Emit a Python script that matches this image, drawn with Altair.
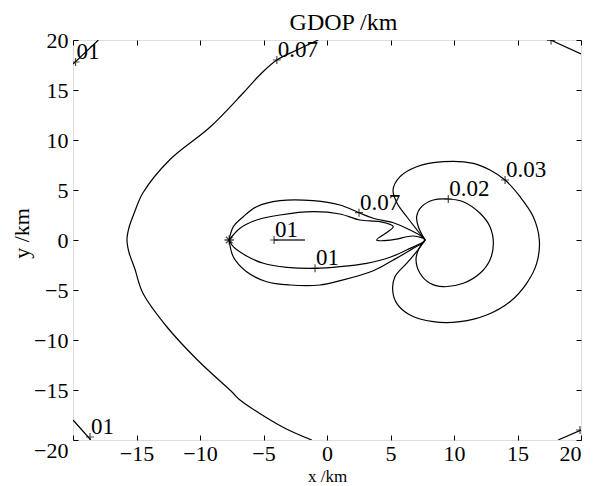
import altair as alt
import pandas as pd

# ---------------- data (km) ----------------
# big outer contour (0.07)
outer_x = [-0.7, -2.2, -3.95, -5.3, -6.6, -9.2, -12.4, -14.5, -15.15, -15.6, -15.75, -15.6, -15.15, -14.5, -12.6, -10.2, -7.4, -6.85, -3.5, -1.2]
outer_y = [20.0, 19.1, 18.0, 16.5, 14.7, 11.3, 8.0, 4.7, 2.8, 1.2, 0.0, -1.2, -2.8, -5.3, -8.7, -12.0, -15.3, -16.0, -18.7, -20.0]

# left lobe, outer loop
lobe_out_x = [-7.7, -7.38, -6.59, -5.54, -3.70, -1.08, 1.02, 2.52, 3.65, 5.22, 6.54, 7.72,
              6.80, 5.22, 3.65, 1.02, -0.55, -2.91, -4.75, -6.33, -7.38, -7.7]
lobe_out_y = [0.0, 1.33, 2.33, 3.33, 3.93, 3.93, 3.5, 2.73, 2.17, 1.73, 1.0, 0.0,
              -0.83, -2.0, -3.07, -4.07, -4.5, -4.5, -4.17, -3.17, -1.67, 0.0]

# left lobe, inner loop (with notch)
lobe_in_x = [-7.7, -6.85, -5.54, -3.70, -1.08, 1.02, 2.60, 4.17, 5.22, 3.91, 5.22, 6.80, 7.72,
             6.27, 4.96, 3.12, 1.02, -0.94, -3.17, -5.01, -6.33, -7.38, -7.7]
lobe_in_y = [0.0, 1.17, 2.0, 2.5, 2.83, 2.6, 2.0, 1.83, 1.33, 0.0, 0.03, 0.4, 0.0,
             -1.0, -1.73, -2.33, -2.67, -2.83, -2.73, -2.33, -1.6, -0.67, 0.0]

# short segment inside the lobe
seg_x = [-4.17, -1.73]
seg_y = [0.0, 0.0]

# right loop 0.03
r3_x = [7.72, 7.09, 6.30, 5.51, 5.20, 5.75, 7.06, 9.16, 11.52, 12.83, 14.02, 15.20, 16.24, 16.72,
        16.51, 15.72, 14.41, 12.57, 10.47, 8.37, 6.54, 5.49, 5.17, 5.35, 6.27, 7.06, 7.72]
r3_y = [0.0, 1.0, 2.3, 3.7, 5.0, 6.33, 7.33, 7.83, 7.67, 7.0, 6.0, 4.33, 2.33, 0.0,
        -2.33, -4.33, -6.17, -7.5, -8.17, -8.17, -7.5, -6.33, -5.0, -3.67, -2.33, -1.17, 0.0]

# right loop 0.02
r2_x = [7.72, 7.19, 7.06, 7.45, 8.37, 9.55, 10.73, 12.05, 12.83, 13.10, 12.83, 12.05, 10.73,
        9.16, 8.11, 7.32, 7.01, 7.19, 7.72]
r2_y = [0.0, 1.33, 2.33, 3.33, 4.0, 4.1, 3.83, 2.67, 1.33, -0.33, -2.0, -3.33, -4.33,
        -4.67, -4.33, -3.33, -2.0, -1.0, 0.0]

# corner pieces
tl_x, tl_y = [-20.0, -18.0], [17.6, 20.0]
bl_x, bl_y = [-20.0, -18.6], [-18.0, -20.0]
tr_x, tr_y = [17.6, 20.0], [20.0, 18.6]
br_x, br_y = [18.2, 20.0], [-20.0, -19.0]

# label markers
mk_x = [-3.95, -19.8, -18.66, -4.17, -0.94, 2.52, 9.55, 14.02, 17.64, 19.92]
mk_y = [18.0, 17.8, -19.7, 0.0, -2.83, 2.73, 4.1, 6.0, 19.95, -19.0]
mk_t = ["0.07", "01", "01", "01", "01", "0.07", "0.02", "0.03", "", ""]

# star at the left station
star_x = [-7.7]
star_y = [0.0]

ticks = [-20, -15, -10, -5, 0, 5, 10, 15, 20]

# ---------------- build tables ----------------
pieces = {
    "outer": (outer_x, outer_y),
    "lobe_out": (lobe_out_x, lobe_out_y),
    "lobe_in": (lobe_in_x, lobe_in_y),
    "seg": (seg_x, seg_y),
    "r3": (r3_x, r3_y),
    "r2": (r2_x, r2_y),
    "tl": (tl_x, tl_y),
    "bl": (bl_x, bl_y),
    "tr": (tr_x, tr_y),
    "br": (br_x, br_y),
}
rows = []
for name, (xs, ys) in pieces.items():
    for i, (a, b) in enumerate(zip(xs, ys)):
        rows.append({"piece": name, "order": i, "x": a, "y": b})
df = pd.DataFrame(rows)
mk = pd.DataFrame({"x": mk_x, "y": mk_y, "t": mk_t})
st = pd.DataFrame({"x": star_x, "y": star_y})

FONT = "Liberation Serif"
xs_ = alt.Scale(domain=[-20, 20], nice=False, zero=False)
ys_ = alt.Scale(domain=[-20, 20], nice=False, zero=False)

minus = "replace(datum.label, '-', '\u2212')"

x_axis = alt.Axis(orient="bottom", values=ticks, offset=-5, tickSize=5, domain=False, grid=False,
                  tickColor="black", tickWidth=1, labelFont=FONT, labelFontSize=22, labelColor="black",
                  labelPadding=3, labelExpr="datum.value == -20 ? '' : " + minus,
                  title="x /km", titleFont=FONT, titleFontSize=17, titleFontWeight="normal",
                  titleColor="black", titleY=46, titleBaseline="alphabetic")
y_axis = alt.Axis(orient="left", values=ticks, offset=-5, tickSize=5, domain=False, grid=False,
                  tickColor="black", tickWidth=1, labelFont=FONT, labelFontSize=22, labelColor="black",
                  labelPadding=5, labelExpr=minus,
                  labelBaseline={"condition": {"test": "datum.value == -20", "value": "top"}, "value": "middle"},
                  title="y /km", titleFont=FONT, titleFontSize=22, titleFontWeight="normal",
                  titleColor="black", titleX=-50, titleY=193, titleAlign="center",
                  titleBaseline="alphabetic", titleAngle=270)
x_top = alt.Axis(orient="top", values=ticks, offset=-5, tickSize=5, domain=False, grid=False,
                 tickColor="black", tickWidth=1, labels=False,
                 title="GDOP /km", titleFont=FONT, titleFontSize=24, titleFontWeight="normal",
                 titleColor="black", titleX=270, titleY=-16, titleAlign="center",
                 titleBaseline="alphabetic")
y_right = alt.Axis(orient="right", values=ticks, offset=-5, tickSize=5, domain=False, grid=False,
                   tickColor="black", tickWidth=1, labels=False, title="")

lines = alt.Chart(df).mark_line(color="black", strokeWidth=1.2, clip=True,
                                interpolate="catmull-rom").encode(
    x=alt.X("x:Q", scale=xs_, axis=x_axis),
    y=alt.Y("y:Q", scale=ys_, axis=y_axis),
    detail="piece:N",
    order="order:Q",
)

plus = alt.Chart(mk).mark_point(shape="M-1,0L1,0M0,-1L0,1", size=64, filled=False,
                                color="black", strokeWidth=1.2, clip=True).encode(
    x=alt.X("x:Q", scale=xs_, axis=None),
    y=alt.Y("y:Q", scale=ys_, axis=None),
)

labels = alt.Chart(mk).mark_text(align="left", baseline="alphabetic", dx=1, dy=-3,
                                 font=FONT, fontSize=23, color="black").encode(
    x=alt.X("x:Q", scale=xs_, axis=None),
    y=alt.Y("y:Q", scale=ys_, axis=None),
    text="t:N",
)

star1 = alt.Chart(st).mark_point(shape="M-1,0L1,0M0,-1L0,1", size=90, filled=False,
                                 color="black", strokeWidth=1.3).encode(
    x=alt.X("x:Q", scale=xs_, axis=None),
    y=alt.Y("y:Q", scale=ys_, axis=None),
)
star2 = alt.Chart(st).mark_point(shape="M-0.7,-0.7L0.7,0.7M-0.7,0.7L0.7,-0.7", size=90, filled=False,
                                 color="black", strokeWidth=1.3).encode(
    x=alt.X("x:Q", scale=xs_, axis=None),
    y=alt.Y("y:Q", scale=ys_, axis=None),
)

frame_axes = alt.Chart(st).mark_point(opacity=0).encode(
    x=alt.X("x:Q", scale=xs_, axis=x_top),
    y=alt.Y("y:Q", scale=ys_, axis=y_right),
)

chart = alt.layer(lines, plus, labels, star1, star2, frame_axes).resolve_axis(
    x="independent", y="independent"
).properties(
    width=508,
    height=400,
    autosize=alt.AutoSizeParams(type="none"),
    padding={"left": 73, "top": 40, "right": 14, "bottom": 46},
).configure_view(stroke="black", strokeWidth=1.3).configure(background="white")

chart.save("out.html", embed_options={"renderer": "svg", "actions": False})
